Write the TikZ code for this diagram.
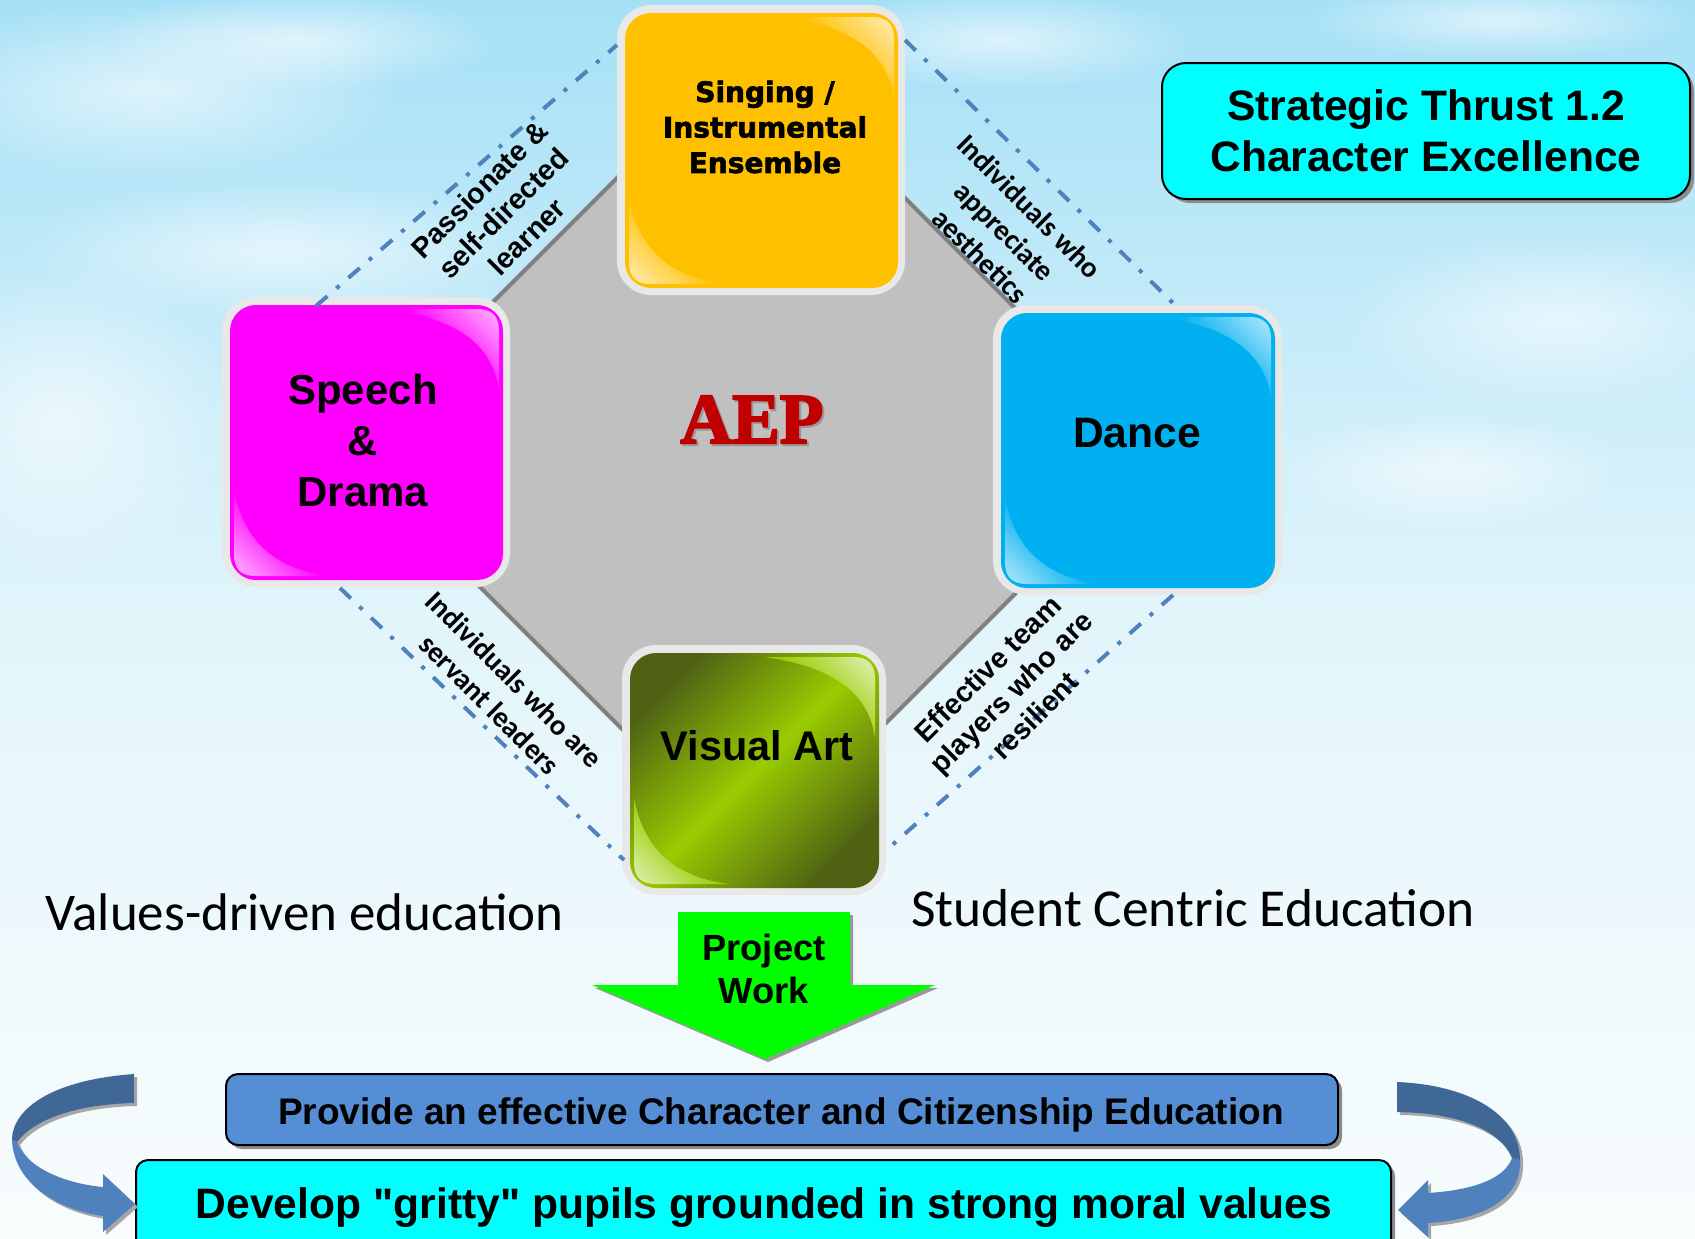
\documentclass[tikz,border=0pt]{standalone}
\usepackage{fontspec}
\setmainfont{Liberation Sans}
\newfontfamily\carlito{Carlito}
\newfontfamily\blackfont{DejaVu Sans}[BoldFeatures={FakeBold=2.2}]
\newfontfamily\aepfont{Liberation Serif}[BoldFeatures={FakeBold=3}]
\usetikzlibrary{fadings}
\tikzfading[name=myfadeout, inner color=transparent!0, outer color=transparent!100]
\newcommand\straightquote{{\XeTeXglyph\the\XeTeXcharglyph"22\relax}}

\definecolor{bgtop}{RGB}{165,224,246}
\definecolor{bgmid}{RGB}{226,245,251}
\definecolor{bgbot}{RGB}{248,252,253}
\definecolor{frame}{RGB}{232,232,232}
\definecolor{orangeF}{RGB}{255,192,0}
\definecolor{magentaF}{RGB}{255,0,255}
\definecolor{blueF}{RGB}{0,176,240}
\definecolor{olivedark}{RGB}{79,98,20}
\definecolor{olivebright}{RGB}{153,204,0}
\definecolor{octgray}{RGB}{192,192,192}
\definecolor{octedge}{RGB}{128,128,128}
\definecolor{dashblue}{RGB}{79,129,189}
\definecolor{aepred}{RGB}{192,0,0}
\definecolor{provblue}{RGB}{85,142,213}
\definecolor{cyanF}{RGB}{0,255,255}
\definecolor{pwgreen}{RGB}{0,255,0}
\definecolor{ribdark}{RGB}{63,104,151}
\definecolor{riblight}{RGB}{79,129,189}

\newcommand\glossbox[6]{%
  \pgfdeclareverticalshading{hl#6}{100bp}{color(0bp)=(#6); color(50bp)=(#6); color(72bp)=(white!45!#6); color(100bp)=(white)}%
  \fill[frame, rounded corners=17pt] (#1,#2) rectangle (#3,#4);
  \pgfmathsetmacro\gxa{#1+8}%
  \pgfmathsetmacro\gya{#2+8}%
  \pgfmathsetmacro\gxb{#3-7}%
  \pgfmathsetmacro\gyb{#4-7}%
  \path[#5, rounded corners=13pt] (\gxa,\gya) rectangle (\gxb,\gyb);
  \shade[shift={(\gxb,\gya)}, shading=hl#6, shading angle=-45]
    (-115,4) -- (-26,4) .. controls (-11,4) and (-4,11) .. (-4,26) -- (-4,85)
    .. controls (-10,42) and (-42,14) .. cycle;
  \shade[shift={(\gxa,\gyb)}, shading=hl#6, shading angle=135]
    (4,-90) -- (4,-26) .. controls (4,-11) and (11,-4) .. (26,-4) -- (100,-4)
    .. controls (48,-10) and (14,-36) .. cycle;
}

\tikzset{
  dashdot/.style={draw=dashblue, line width=2pt, dash pattern=on 7.5pt off 6pt on 2pt off 6pt},
  diaglab/.style={align=center, inner sep=0pt, font=\bfseries\fontsize{14.3}{16.7}\selectfont},
  diaglabc/.style={align=center, inner sep=0pt, font=\carlito\bfseries\fontsize{14.5}{17.5}\selectfont},
  boxtext/.style={align=center, inner sep=0pt, font=\bfseries\fontsize{21}{25.5}\selectfont},
  plainbox/.style={draw=black, line width=1pt, rounded corners=6pt},
  cloud/.style={fill=white, fill opacity=0.6, path fading=myfadeout},
}

\begin{document}
\begin{tikzpicture}[x=0.5pt, y=-0.5pt]
\useasboundingbox (0,0) rectangle (1695,1238);
\clip (0,0) rectangle (1695,1238);

% background
\shade[top color=bgtop, bottom color=bgbot, middle color=bgmid] (0,0) rectangle (1695,1238);
\fill[cloud] (150,90) ellipse (260 and 90);
\fill[cloud] (300,40) ellipse (200 and 50);
\fill[cloud] (280,250) ellipse (260 and 70);
\fill[cloud] (60,420) ellipse (180 and 160);
\fill[cloud] (1560,320) ellipse (220 and 90);
\fill[cloud] (1450,470) ellipse (180 and 60);
\fill[cloud] (1000,40) ellipse (200 and 50);
\fill[cloud] (1500,20) ellipse (200 and 40);

% gray diamond
\draw[fill=octgray, draw=octedge, line width=2pt] (751,44) -- (1158,451) -- (751,858) -- (344,451) -- cycle;

% glossy boxes
\glossbox{617}{5}{905}{295}{fill=orangeF}{orangeF}
\glossbox{222}{297}{510}{587}{fill=magentaF}{magentaF}
\glossbox{993}{305}{1282}{595}{fill=blueF}{blueF}
\glossbox{622}{645}{886}{895}{top color=olivedark, bottom color=olivedark, middle color=olivebright, shading angle=45}{olivebright}

\node[align=center, inner sep=0pt, font=\blackfont\bfseries\fontsize{14}{17.75}\selectfont] (sing) at (765,127) {Singing /\\Instrumental\\Ensemble};
\node[boxtext] (speech) at (363,440) {Speech\\\&\\Drama};
\node[boxtext, anchor=base, font=\bfseries\fontsize{21.3}{25.5}\selectfont] (dance) at (1137,447) {Dance};
\node[boxtext, anchor=base, font=\bfseries\fontsize{20.7}{25}\selectfont] (visual) at (757,760) {Visual Art};

% dash-dot connectors
\coordinate (tla) at (316,306); \coordinate (tlb) at (617,45);
\coordinate (tra) at (905,40);  \coordinate (trb) at (1173,303);
\coordinate (bla) at (340,588); \coordinate (blb) at (624,860);
\coordinate (bra) at (1173,595); \coordinate (brb) at (890,847);
\draw[dashdot] (tla) -- (tlb);
\draw[dashdot] (tra) -- (trb);
\draw[dashdot] (bla) -- (blb);
\draw[dashdot] (bra) -- (brb);

% diagonal labels
\node[diaglab, rotate=45] (lab1) at (503,213) {Passionate \&\\self-directed\\learner};
\node[diaglabc, rotate=-45] (lab2) at (1005,231) {Individuals who\\appreciate\\aesthetics};
\node[diaglabc, rotate=-45] (lab3) at (502,692) {Individuals who are\\servant leaders};
\node[diaglab, rotate=45] (lab4) at (1011,692) {Effective team\\players who are\\resilient};

% AEP
\node[anchor=base, inner sep=0pt, text=black!40, font=\aepfont\bfseries\fontsize{35.7}{40}\selectfont] (aepsh) at (754,445) {AEP};
\node[anchor=base, inner sep=0pt, text=aepred, font=\aepfont\bfseries\fontsize{35.7}{40}\selectfont] (aep) at (752,443) {AEP};

% title
\fill[black!45, rounded corners=12pt] (1166,67) rectangle (1694,203);
\node[draw=black, line width=1pt, fill=cyanF, rounded corners=12pt, minimum width=264pt, minimum height=68pt, inner sep=0pt, align=center, font=\bfseries\fontsize{21.3}{25.5}\selectfont] (title) at (1426,131) {Strategic Thrust 1.2\\Character Excellence};

% side texts
\node[anchor=base west, inner sep=0pt, font=\carlito\fontsize{26.5}{30}\selectfont] (values) at (45,930) {Values-driven education};
\node[anchor=base west, inner sep=0pt, font=\carlito\fontsize{26.7}{30}\selectfont] (student) at (911,926) {Student Centric Education};

% project work arrow
\fill[black!40] (681,915) -- (853,915) -- (853,988) -- (938,988) -- (768,1062) -- (595,988) -- (681,988) -- cycle;
\fill[pwgreen] (678,912) -- (850,912) -- (850,985) -- (935,985) -- (765,1059) -- (592,985) -- (678,985) -- cycle;
\node[align=center, inner sep=0pt, font=\bfseries\fontsize{18.2}{21.5}\selectfont] (pw) at (764,969) {Project\\Work};

% bottom boxes
\fill[black!45, rounded corners=6pt] (230,1078) rectangle (1342,1149);
\draw[plainbox, fill=provblue] (226,1074) rectangle (1338,1145);
\node[anchor=base, inner sep=0pt, font=\bfseries\fontsize{18.5}{22}\selectfont] (provide) at (781,1124) {Provide an effective Character and Citizenship Education};
\fill[black!45, rounded corners=6pt] (140,1164) rectangle (1395,1260);
\draw[plainbox, fill=cyanF] (136,1160) rectangle (1391,1256);
\node[anchor=base, inner sep=0pt, font=\bfseries\fontsize{21.3}{25}\selectfont] (develop) at (764,1218) {Develop \straightquote gritty\straightquote{} pupils grounded in strong moral values};

% left ribbon arrow
\begin{scope}[shift={(3,3)}]
\fill[black!35] (134,1074) .. controls (50,1080) and (12,1110) .. (12,1140) .. controls (14,1185) and (60,1210) .. (103,1216) -- (103,1232) -- (135,1204) -- (103,1174) -- (103,1187) .. controls (60,1183) and (25,1165) .. (17,1142) .. controls (35,1118) and (80,1104) .. (134,1103) -- cycle;
\end{scope}
\fill[ribdark] (134,1074) .. controls (50,1080) and (12,1110) .. (12,1140) -- (17,1142) .. controls (35,1118) and (80,1104) .. (134,1103) -- cycle;
\fill[riblight] (12,1140) .. controls (14,1185) and (60,1210) .. (103,1216) -- (103,1232) -- (135,1204) -- (103,1174) -- (103,1187) .. controls (60,1183) and (25,1165) .. (17,1142) -- cycle;

% right ribbon arrow
\begin{scope}[shift={(3,3)}]
\fill[black!35] (1397,1082) .. controls (1470,1085) and (1520,1115) .. (1520,1160) .. controls (1522,1200) and (1480,1220) .. (1428,1223) -- (1428,1237) -- (1398,1210) -- (1428,1180) -- (1428,1193) .. controls (1475,1190) and (1505,1178) .. (1512,1158) .. controls (1500,1130) and (1460,1113) .. (1397,1112) -- cycle;
\end{scope}
\fill[ribdark] (1397,1082) .. controls (1470,1085) and (1520,1115) .. (1520,1160) -- (1512,1158) .. controls (1500,1130) and (1460,1113) .. (1397,1112) -- cycle;
\fill[riblight] (1520,1160) .. controls (1522,1200) and (1480,1220) .. (1428,1223) -- (1428,1237) -- (1398,1210) -- (1428,1180) -- (1428,1193) .. controls (1475,1190) and (1505,1178) .. (1512,1158) -- cycle;

\end{tikzpicture}
\end{document}
